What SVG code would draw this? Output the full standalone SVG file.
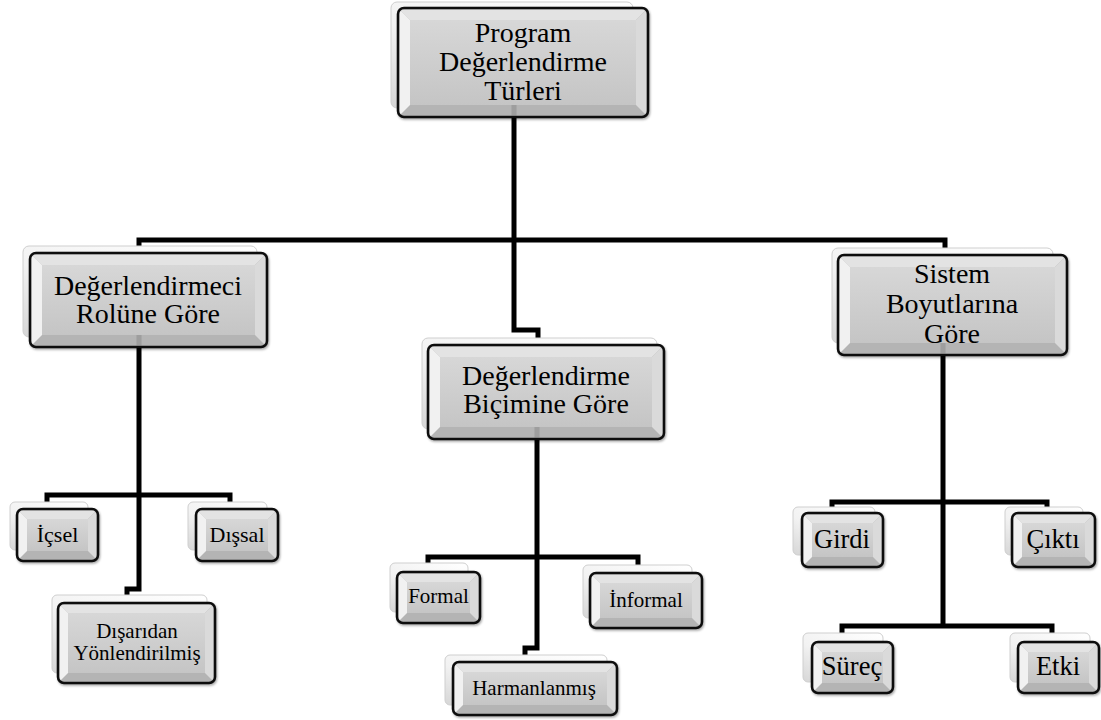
<svg xmlns="http://www.w3.org/2000/svg" width="1101" height="720" viewBox="0 0 1101 720">
  <style>
    .wire { fill: none; stroke: #000; stroke-width: 5; stroke-linejoin: miter; }
    .back { fill: url(#backGrad); stroke: #cfcfcf; stroke-width: 1; }
    .base { fill: #b4b4b4; }
    .bt { fill: #e3e3e3; }
    .bl { fill: #f1f1f1; }
    .br { fill: #dadada; }
    .face { fill: url(#faceGrad); }
    .rim { fill: none; stroke: #111; stroke-width: 2.5; }
    .stub { fill: #8c8c8c; opacity: 0.55; }
    .front { filter: url(#shadow); }
    text { font-family: "Liberation Serif", "Times New Roman", serif; fill: #000; text-anchor: middle; }
    .big { font-size: 28px; }
    .s21 { font-size: 21px; }
    .s22 { font-size: 22px; }
    .s26 { font-size: 26.5px; }
  </style>
  <defs>
    <linearGradient id="faceGrad" x1="0" y1="0" x2="0" y2="1">
      <stop offset="0" stop-color="#d7d7d7"/>
      <stop offset="1" stop-color="#c5c5c5"/>
    </linearGradient>
    <linearGradient id="backGrad" x1="1" y1="0" x2="0" y2="1">
      <stop offset="0" stop-color="#ffffff"/>
      <stop offset="0.6" stop-color="#f2f2f2"/>
      <stop offset="1" stop-color="#d6d6d6"/>
    </linearGradient>
    <filter id="shadow" x="-10%" y="-10%" width="120%" height="130%">
      <feDropShadow dx="1" dy="1.5" stdDeviation="1.2" flood-color="#000" flood-opacity="0.35"/>
    </filter>
  </defs>

  <rect width="1101" height="720" fill="#fff"/>

  <!-- connectors -->
  <g id="connectors">
    <path class="wire" d="M514 117 V240"/>
    <path class="wire" d="M139 253 V240 H945 V252"/>
    <path class="wire" d="M514 240 V330 H538 V342"/>
    <path class="wire" d="M139 347 V589 H127 V598"/>
    <path class="wire" d="M47 505 V495 H230 V505"/>
    <path class="wire" d="M537 439 V648 H525 V658"/>
    <path class="wire" d="M428 566 V557 H638 V568"/>
    <path class="wire" d="M943 355 V626"/>
    <path class="wire" d="M832 510 V502 H1047 V510"/>
    <path class="wire" d="M842 636 V626 H1052 V636"/>
  </g>

  <!-- root -->
  <g id="node-root" transform="translate(398,8)">
    <rect class="back" x="-7" y="-6" width="242" height="106" rx="6"/>
    <g class="front">
      <rect class="base" x="0" y="0" width="250" height="109" rx="6"/>
      <polygon class="bt" points="1.5,1.5 248.5,1.5 238,12 12,12"/>
      <polygon class="bl" points="1.5,1.5 12,12 12,97 1.5,107.5"/>
      <polygon class="br" points="248.5,1.5 248.5,107.5 238,97 238,12"/>
      <rect class="face" x="12" y="12" width="226" height="85"/>
      <rect class="stub" x="113.5" y="97" width="5" height="10.5"/>
      <rect class="rim" x="0" y="0" width="250" height="109" rx="6"/>
    </g>
    <text class="big" x="125" y="34">Program</text>
    <text class="big" x="125" y="63">Değerlendirme</text>
    <text class="big" x="125" y="92">Türleri</text>
  </g>

  <!-- evaluator role -->
  <g id="node-role" transform="translate(30,253)">
    <rect class="back" x="-7" y="-7" width="234" height="91" rx="6"/>
    <g class="front">
      <rect class="base" x="0" y="0" width="237" height="94" rx="6"/>
      <polygon class="bt" points="1.5,1.5 235.5,1.5 225,12 12,12"/>
      <polygon class="bl" points="1.5,1.5 12,12 12,82 1.5,92.5"/>
      <polygon class="br" points="235.5,1.5 235.5,92.5 225,82 225,12"/>
      <rect class="face" x="12" y="12" width="213" height="70"/>
      <rect class="stub" x="106.5" y="82" width="5" height="10.5"/>
      <rect class="rim" x="0" y="0" width="237" height="94" rx="6"/>
    </g>
    <text class="big" x="118" y="42">Değerlendirmeci</text>
    <text class="big" x="118" y="70">Rolüne Göre</text>
  </g>

  <!-- evaluation form -->
  <g id="node-form" transform="translate(428,345)">
    <rect class="back" x="-6" y="-7" width="235" height="91" rx="6"/>
    <g class="front">
      <rect class="base" x="0" y="0" width="236" height="94" rx="6"/>
      <polygon class="bt" points="1.5,1.5 234.5,1.5 224,12 12,12"/>
      <polygon class="bl" points="1.5,1.5 12,12 12,82 1.5,92.5"/>
      <polygon class="br" points="234.5,1.5 234.5,92.5 224,82 224,12"/>
      <rect class="face" x="12" y="12" width="212" height="70"/>
      <rect class="stub" x="106.5" y="82" width="5" height="10.5"/>
      <rect class="rim" x="0" y="0" width="236" height="94" rx="6"/>
    </g>
    <text class="big" x="118" y="40">Değerlendirme</text>
    <text class="big" x="118" y="68">Biçimine Göre</text>
  </g>

  <!-- system dimensions -->
  <g id="node-system" transform="translate(838,255)">
    <rect class="back" x="-6" y="-7" width="221" height="95" rx="6"/>
    <g class="front">
      <rect class="base" x="0" y="0" width="229" height="100" rx="6"/>
      <polygon class="bt" points="1.5,1.5 227.5,1.5 217,12 12,12"/>
      <polygon class="bl" points="1.5,1.5 12,12 12,88 1.5,98.5"/>
      <polygon class="br" points="227.5,1.5 227.5,98.5 217,88 217,12"/>
      <rect class="face" x="12" y="12" width="205" height="76"/>
      <rect class="stub" x="102.5" y="88" width="5" height="10.5"/>
      <rect class="rim" x="0" y="0" width="229" height="100" rx="6"/>
    </g>
    <text class="big" x="114" y="28">Sistem</text>
    <text class="big" x="114" y="58">Boyutlarına</text>
    <text class="big" x="114" y="88">Göre</text>
  </g>

  <!-- internal -->
  <g id="node-icsel" transform="translate(17,509)">
    <rect class="back" x="-7" y="-7" width="78" height="48" rx="5"/>
    <g class="front">
      <rect class="base" x="0" y="0" width="81" height="52" rx="6"/>
      <polygon class="bt" points="1.5,1.5 79.5,1.5 71,10 10,10"/>
      <polygon class="bl" points="1.5,1.5 10,10 10,42 1.5,50.5"/>
      <polygon class="br" points="79.5,1.5 79.5,50.5 71,42 71,10"/>
      <rect class="face" x="10" y="10" width="61" height="32"/>
      <rect class="rim" x="0" y="0" width="81" height="52" rx="6"/>
    </g>
    <text class="s22" x="40.5" y="33">İçsel</text>
  </g>

  <!-- external -->
  <g id="node-dissal" transform="translate(196,509)">
    <rect class="back" x="-8" y="-7" width="79" height="48" rx="5"/>
    <g class="front">
      <rect class="base" x="0" y="0" width="82" height="52" rx="6"/>
      <polygon class="bt" points="1.5,1.5 80.5,1.5 72,10 10,10"/>
      <polygon class="bl" points="1.5,1.5 10,10 10,42 1.5,50.5"/>
      <polygon class="br" points="80.5,1.5 80.5,50.5 72,42 72,10"/>
      <rect class="face" x="10" y="10" width="62" height="32"/>
      <rect class="rim" x="0" y="0" width="82" height="52" rx="6"/>
    </g>
    <text class="s22" x="41" y="33">Dışsal</text>
  </g>

  <!-- externally directed -->
  <g id="node-disaridan" transform="translate(58,603)">
    <rect class="back" x="-6" y="-8" width="155" height="78" rx="5"/>
    <g class="front">
      <rect class="base" x="0" y="0" width="157" height="80" rx="6"/>
      <polygon class="bt" points="1.5,1.5 155.5,1.5 147,10 10,10"/>
      <polygon class="bl" points="1.5,1.5 10,10 10,70 1.5,78.5"/>
      <polygon class="br" points="155.5,1.5 155.5,78.5 147,70 147,10"/>
      <rect class="face" x="10" y="10" width="137" height="60"/>
      <rect class="rim" x="0" y="0" width="157" height="80" rx="6"/>
    </g>
    <text class="s21" x="79" y="35">Dışarıdan</text>
    <text class="s21" x="79" y="57">Yönlendirilmiş</text>
  </g>

  <!-- formal -->
  <g id="node-formal" transform="translate(397,572)">
    <rect class="back" x="-7" y="-9" width="78" height="49" rx="5"/>
    <g class="front">
      <rect class="base" x="0" y="0" width="83" height="51" rx="6"/>
      <polygon class="bt" points="1.5,1.5 81.5,1.5 73,10 10,10"/>
      <polygon class="bl" points="1.5,1.5 10,10 10,41 1.5,49.5"/>
      <polygon class="br" points="81.5,1.5 81.5,49.5 73,41 73,10"/>
      <rect class="face" x="10" y="10" width="63" height="31"/>
      <rect class="rim" x="0" y="0" width="83" height="51" rx="6"/>
    </g>
    <text class="s21" x="41.5" y="31">Formal</text>
  </g>

  <!-- informal -->
  <g id="node-informal" transform="translate(590,573)">
    <rect class="back" x="-7" y="-8" width="109" height="53" rx="5"/>
    <g class="front">
      <rect class="base" x="0" y="0" width="112" height="55" rx="6"/>
      <polygon class="bt" points="1.5,1.5 110.5,1.5 102,10 10,10"/>
      <polygon class="bl" points="1.5,1.5 10,10 10,45 1.5,53.5"/>
      <polygon class="br" points="110.5,1.5 110.5,53.5 102,45 102,10"/>
      <rect class="face" x="10" y="10" width="92" height="35"/>
      <rect class="rim" x="0" y="0" width="112" height="55" rx="6"/>
    </g>
    <text class="s21" x="56" y="34">İnformal</text>
  </g>

  <!-- blended -->
  <g id="node-harmanlanmis" transform="translate(453,662)">
    <rect class="back" x="-8" y="-7" width="162" height="50" rx="5"/>
    <g class="front">
      <rect class="base" x="0" y="0" width="164" height="53" rx="6"/>
      <polygon class="bt" points="1.5,1.5 162.5,1.5 154,10 10,10"/>
      <polygon class="bl" points="1.5,1.5 10,10 10,43 1.5,51.5"/>
      <polygon class="br" points="162.5,1.5 162.5,51.5 154,43 154,10"/>
      <rect class="face" x="10" y="10" width="144" height="33"/>
      <rect class="rim" x="0" y="0" width="164" height="53" rx="6"/>
    </g>
    <text class="s21" x="81" y="33">Harmanlanmış</text>
  </g>

  <!-- input -->
  <g id="node-girdi" transform="translate(802,513)">
    <rect class="back" x="-9" y="-6" width="82" height="48" rx="5"/>
    <g class="front">
      <rect class="base" x="0" y="0" width="81" height="54" rx="6"/>
      <polygon class="bt" points="1.5,1.5 79.5,1.5 71,10 10,10"/>
      <polygon class="bl" points="1.5,1.5 10,10 10,44 1.5,52.5"/>
      <polygon class="br" points="79.5,1.5 79.5,52.5 71,44 71,10"/>
      <rect class="face" x="10" y="10" width="61" height="34"/>
      <rect class="rim" x="0" y="0" width="81" height="54" rx="6"/>
    </g>
    <text class="s26" x="40" y="35">Girdi</text>
  </g>

  <!-- output -->
  <g id="node-cikti" transform="translate(1012,513)">
    <rect class="back" x="-7" y="-6" width="78" height="48" rx="5"/>
    <g class="front">
      <rect class="base" x="0" y="0" width="83" height="54" rx="6"/>
      <polygon class="bt" points="1.5,1.5 81.5,1.5 73,10 10,10"/>
      <polygon class="bl" points="1.5,1.5 10,10 10,44 1.5,52.5"/>
      <polygon class="br" points="81.5,1.5 81.5,52.5 73,44 73,10"/>
      <rect class="face" x="10" y="10" width="63" height="34"/>
      <rect class="rim" x="0" y="0" width="83" height="54" rx="6"/>
    </g>
    <text class="s26" x="41" y="35">Çıktı</text>
  </g>

  <!-- process -->
  <g id="node-surec" transform="translate(812,642)">
    <rect class="back" x="-9" y="-9" width="80" height="49" rx="5"/>
    <g class="front">
      <rect class="base" x="0" y="0" width="81" height="51" rx="6"/>
      <polygon class="bt" points="1.5,1.5 79.5,1.5 71,10 10,10"/>
      <polygon class="bl" points="1.5,1.5 10,10 10,41 1.5,49.5"/>
      <polygon class="br" points="79.5,1.5 79.5,49.5 71,41 71,10"/>
      <rect class="face" x="10" y="10" width="61" height="31"/>
      <rect class="rim" x="0" y="0" width="81" height="51" rx="6"/>
    </g>
    <text class="s26" x="40" y="33">Süreç</text>
  </g>

  <!-- impact -->
  <g id="node-etki" transform="translate(1018,642)">
    <rect class="back" x="-8" y="-9" width="80" height="49" rx="5"/>
    <g class="front">
      <rect class="base" x="0" y="0" width="81" height="51" rx="6"/>
      <polygon class="bt" points="1.5,1.5 79.5,1.5 71,10 10,10"/>
      <polygon class="bl" points="1.5,1.5 10,10 10,41 1.5,49.5"/>
      <polygon class="br" points="79.5,1.5 79.5,49.5 71,41 71,10"/>
      <rect class="face" x="10" y="10" width="61" height="31"/>
      <rect class="rim" x="0" y="0" width="81" height="51" rx="6"/>
    </g>
    <text class="s26" x="40" y="33">Etki</text>
  </g>
</svg>
